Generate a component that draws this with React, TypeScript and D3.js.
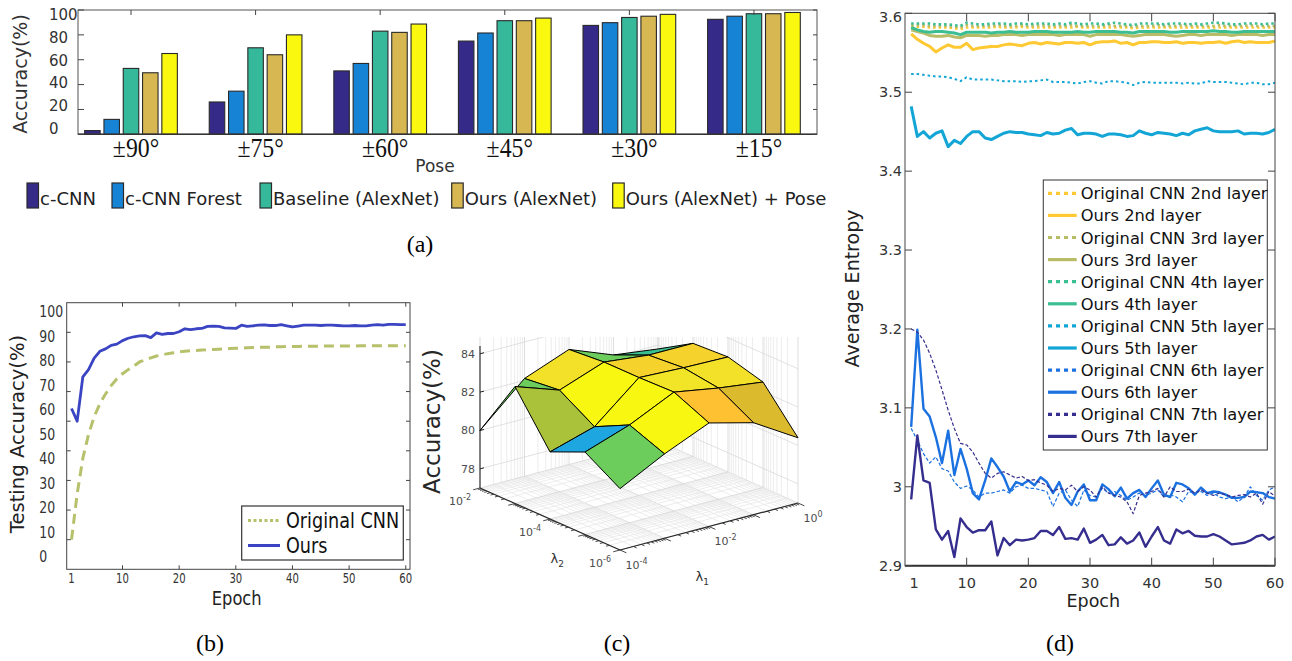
import React from 'react';
import * as d3 from 'd3';

const SANS = 'DejaVu Sans, Verdana, sans-serif';
const SERIF = 'Liberation Serif, Times New Roman, serif';

// ---------------- Panel (a) data ----------------
const poseLabels = ['±90°', '±75°', '±60°', '±45°', '±30°', '±15°'];
const barSeriesNames = ['c-CNN', 'c-CNN Forest', 'Baseline (AlexNet)', 'Ours (AlexNet)', 'Ours (AlexNet) + Pose'];
const barCNN = [3, 26, 51, 75, 87.6, 92.5];
const barCNNForest = [12, 34.7, 57, 81.5, 89.8, 95];
const barBaseline = [53, 69.6, 83, 91.4, 94, 97];
const barOurs = [49.5, 64, 82, 91.4, 95, 97];
const barOursPose = [65, 80, 88.7, 93.5, 96.5, 98];
const barTickValues = [0, 20, 40, 60, 80, 100];

// ---------------- Panel (b) data ----------------
const bEpochTicks = [1, 10, 20, 30, 40, 50, 60];
const bAccTickLabels = [0, 10, 20, 30, 40, 50, 60, 70, 80, 90, 100];
const bAccTickMarks = [20, 30, 40, 50, 60, 70, 80, 90];
const accOurs = [
  64.3, 60.0, 75.0, 77.4, 81.3, 83.6, 84.4, 85.6, 86.0, 87.2,
  88.0, 88.5, 88.8, 88.9, 88.2, 89.8, 89.3, 89.6, 89.6, 90.2,
  91.2, 90.9, 91.2, 91.3, 92.0, 92.1, 92.0, 91.5, 91.4, 91.3,
  92.4, 92.0, 92.2, 92.4, 92.5, 92.3, 92.3, 92.6, 92.2, 91.8,
  92.1, 92.4, 92.4, 92.4, 92.3, 92.4, 92.4, 92.3, 92.2, 92.2,
  92.3, 92.2, 92.2, 92.4, 92.6, 92.4, 92.7, 92.7, 92.6, 92.6,
];
const accOriginal = [
  20.0, 35.5, 47.5, 55.5, 61.5, 65.9, 69.2, 72.0, 74.3, 76.0,
  77.4, 78.6, 80.0, 80.7, 81.4, 82.0, 82.4, 82.8, 83.1, 83.4,
  83.6, 83.8, 83.9, 84.0, 84.1, 84.2, 84.3, 84.4, 84.5, 84.6,
  84.7, 84.8, 84.9, 84.9, 85.0, 85.0, 85.1, 85.1, 85.2, 85.2,
  85.2, 85.3, 85.3, 85.3, 85.3, 85.4, 85.4, 85.4, 85.4, 85.4,
  85.4, 85.5, 85.5, 85.5, 85.5, 85.5, 85.5, 85.5, 85.5, 85.5,
];

// ---------------- Panel (c) data ----------------
const lambda1 = [1e-4, 1e-3, 1e-2, 1e-1, 1];
const lambda2 = [1e-6, 1e-5, 1e-4, 1e-3, 1e-2];
// rows: lambda2 index, columns: lambda1 index
const accGrid = [
  [80.2, 81.4, 82.4, 81.8, 80.4],
  [81.3, 82.1, 83.2, 82.8, 82.5],
  [80.5, 81.2, 83.15, 83.05, 83.0],
  [83.1, 82.3, 83.15, 82.9, 82.9],
  [80.0, 82.1, 83.0, 82.1, 81.8],
];
const cZTicks = [78, 80, 82, 84];
const l1Labels = [1e-4, 1e-2, 1];
const l2Labels = [1e-6, 1e-4, 1e-2];

// ---------------- Panel (d) data ----------------
const dEpochTicks = [1, 10, 20, 30, 40, 50, 60];
const dEntTicks = [2.9, 3.0, 3.1, 3.2, 3.3, 3.4, 3.5, 3.6];
const ent2Orig = [3.583,3.583,3.583,3.582,3.582,3.582,3.582,3.581,3.580,3.582,3.582,3.582,3.582,3.582,3.583,3.582,3.582,3.582,3.583,3.582,3.582,3.582,3.582,3.582,3.582,3.582,3.582,3.583,3.582,3.582,3.582,3.582,3.582,3.582,3.582,3.582,3.581,3.582,3.582,3.582,3.582,3.582,3.582,3.582,3.582,3.582,3.582,3.582,3.582,3.582,3.582,3.582,3.582,3.582,3.582,3.582,3.582,3.582,3.582,3.582];
const ent2Ours = [
  3.574,3.567,3.562,3.558,3.551,3.556,3.560,3.557,3.557,3.562,
  3.554,3.556,3.557,3.558,3.558,3.560,3.561,3.560,3.559,3.562,
  3.563,3.561,3.563,3.562,3.561,3.563,3.563,3.562,3.563,3.560,
  3.563,3.564,3.564,3.565,3.562,3.563,3.560,3.563,3.563,3.564,
  3.564,3.563,3.563,3.564,3.562,3.563,3.563,3.562,3.563,3.563,
  3.564,3.562,3.564,3.565,3.563,3.564,3.563,3.563,3.563,3.565];
const ent3Orig = [3.585,3.585,3.585,3.584,3.584,3.584,3.584,3.583,3.582,3.585,3.584,3.584,3.584,3.584,3.585,3.584,3.584,3.584,3.585,3.584,3.584,3.585,3.584,3.584,3.584,3.584,3.585,3.584,3.584,3.584,3.584,3.584,3.585,3.584,3.584,3.584,3.583,3.584,3.584,3.584,3.585,3.584,3.584,3.584,3.585,3.584,3.584,3.584,3.584,3.584,3.585,3.584,3.584,3.584,3.584,3.585,3.584,3.584,3.584,3.584];
const ent3Ours = [3.579,3.577,3.575,3.572,3.571,3.571,3.572,3.570,3.569,3.572,3.572,3.572,3.571,3.572,3.572,3.573,3.573,3.573,3.572,3.573,3.573,3.573,3.573,3.573,3.572,3.573,3.573,3.573,3.573,3.571,3.573,3.573,3.573,3.573,3.573,3.572,3.571,3.572,3.573,3.573,3.573,3.573,3.572,3.571,3.572,3.573,3.573,3.572,3.573,3.573,3.573,3.573,3.572,3.573,3.573,3.573,3.573,3.572,3.573,3.573];
const ent4Orig = [3.587,3.587,3.587,3.587,3.586,3.586,3.586,3.585,3.584,3.588,3.587,3.586,3.586,3.587,3.587,3.587,3.586,3.587,3.587,3.586,3.587,3.587,3.587,3.586,3.587,3.586,3.588,3.587,3.586,3.587,3.587,3.586,3.587,3.588,3.587,3.586,3.585,3.587,3.587,3.587,3.587,3.586,3.587,3.587,3.587,3.586,3.587,3.586,3.587,3.588,3.588,3.587,3.586,3.586,3.587,3.587,3.587,3.586,3.587,3.587];
const ent4Ours = [3.582,3.579,3.577,3.576,3.577,3.577,3.576,3.575,3.573,3.576,3.576,3.576,3.576,3.575,3.576,3.576,3.577,3.576,3.576,3.576,3.577,3.577,3.577,3.576,3.576,3.576,3.576,3.577,3.576,3.576,3.577,3.577,3.577,3.577,3.576,3.576,3.575,3.577,3.577,3.577,3.577,3.577,3.576,3.576,3.577,3.577,3.577,3.577,3.577,3.578,3.577,3.577,3.576,3.576,3.577,3.577,3.577,3.577,3.577,3.577];
const ent5Orig = [
  3.523,3.523,3.522,3.521,3.520,3.520,3.519,3.517,3.514,3.519,
  3.516,3.516,3.516,3.516,3.515,3.514,3.514,3.514,3.513,3.514,
  3.514,3.515,3.516,3.513,3.513,3.513,3.512,3.511,3.513,3.514,
  3.512,3.511,3.514,3.514,3.513,3.512,3.509,3.512,3.513,3.512,
  3.512,3.512,3.512,3.512,3.511,3.512,3.511,3.511,3.514,3.513,
  3.513,3.513,3.512,3.511,3.510,3.512,3.512,3.510,3.510,3.512];
const ent5Ours = [
  3.482,3.444,3.450,3.442,3.448,3.451,3.431,3.439,3.435,3.444,
  3.450,3.450,3.442,3.440,3.444,3.448,3.450,3.449,3.449,3.447,
  3.446,3.445,3.449,3.447,3.448,3.452,3.454,3.446,3.448,3.448,
  3.447,3.444,3.447,3.447,3.446,3.444,3.445,3.451,3.448,3.446,
  3.449,3.448,3.447,3.445,3.448,3.446,3.451,3.453,3.455,3.451,
  3.450,3.450,3.450,3.451,3.447,3.448,3.448,3.447,3.449,3.453];
const ent6Orig = [
  3.074,3.059,3.042,3.030,3.038,3.023,3.020,3.006,2.998,3.001,
  2.996,2.987,2.992,2.992,2.994,2.996,2.992,3.000,3.002,2.998,
  2.998,2.996,2.994,2.975,2.992,2.996,2.983,2.975,2.996,2.989,
  2.987,2.998,2.992,2.994,2.989,2.983,2.987,2.992,2.989,2.992,
  2.996,2.987,2.990,2.987,2.981,2.994,2.992,2.994,2.989,2.992,
  2.987,2.985,2.987,2.981,2.987,3.000,2.989,2.983,2.996,3.000];
const ent6Ours = [
  3.076,3.199,3.099,3.089,3.063,3.030,3.071,3.015,3.048,3.023,
  2.992,2.984,3.008,3.036,3.025,3.013,2.994,3.006,3.003,3.008,
  3.002,3.012,3.006,2.992,3.006,2.986,2.977,2.994,3.003,2.983,
  2.983,3.003,2.997,2.988,2.999,2.985,2.992,2.996,2.987,2.998,
  3.008,2.990,2.987,3.005,3.003,2.998,2.990,2.999,2.992,2.994,
  2.993,2.990,2.986,2.986,2.987,2.994,2.993,2.992,2.987,2.985];
const ent7Orig = [
  3.200,3.196,3.186,3.169,3.148,3.123,3.097,3.074,3.055,3.053,
  3.044,3.030,3.017,3.011,3.017,3.019,3.015,3.011,3.013,3.008,
  3.009,3.005,3.002,2.994,2.998,2.996,3.002,2.994,3.000,2.996,
  2.987,3.000,2.992,2.989,2.987,2.981,2.966,2.989,2.992,2.994,
  2.998,2.987,3.000,2.994,2.994,2.997,2.992,2.996,2.992,2.989,
  2.992,2.990,2.987,2.989,2.990,2.987,2.992,2.978,2.994,2.988];
const ent7Ours = [
  2.984,3.065,3.008,3.005,2.946,2.933,2.944,2.911,2.960,2.949,
  2.942,2.945,2.945,2.956,2.913,2.935,2.926,2.933,2.932,2.933,
  2.935,2.944,2.944,2.939,2.949,2.934,2.935,2.933,2.947,2.929,
  2.933,2.939,2.926,2.927,2.936,2.928,2.932,2.942,2.924,2.937,
  2.949,2.932,2.928,2.946,2.941,2.944,2.938,2.937,2.937,2.940,
  2.937,2.932,2.927,2.928,2.929,2.932,2.937,2.939,2.933,2.937];
const dLegendLabels = [
  'Original CNN 2nd layer', 'Ours 2nd layer', 'Original CNN 3rd layer', 'Ours 3rd layer',
  'Original CNN 4th layer', 'Ours 4th layer', 'Original CNN 5th layer', 'Ours 5th layer',
  'Original CNN 6th layer', 'Ours 6th layer', 'Original CNN 7th layer', 'Ours 7th layer',
];

// ---------------- helpers ----------------
function SqText(props: any) {
  const { x, y, sx = 1, anchor = 'start', size, fill = '#222', family = SANS, children } = props;
  return (
    <text transform={`translate(${x},${y}) scale(${sx},1)`} textAnchor={anchor} fontSize={size} fill={fill} fontFamily={family}>
      {children}
    </text>
  );
}

// ---------------- Panel (a) ----------------
function PanelA() {
  const L = 78, R = 817, T = 10, B = 134.3;
  const x = d3.scaleLinear().domain([0.5746, 6.506]).range([L, R]);
  const y = d3.scaleLinear().domain([0, 100]).range([B, T]);
  const yLab = d3.scaleLinear().domain([0, 100]).range([128.3, 15]);
  const inner = d3.scaleBand<string>().domain(barSeriesNames).range([-46.35, 46.35]).paddingInner(0.197);
  const series = [barCNN, barCNNForest, barBaseline, barOurs, barOursPose];
  const colors = ['#352a87', '#1783d5', '#36b89b', '#d7b752', '#f9f80e'];
  const legendX = [27, 112, 260, 451.7, 612.7];
  return (
    <g>
      {series.map((vals, k) =>
        vals.map((v, g) => (
          <rect key={`b${k}-${g}`} x={x(g + 1) + (inner(barSeriesNames[k]) as number)} y={y(v)}
            width={inner.bandwidth()} height={B - y(v)} fill={colors[k]} stroke="#2a2a2a" strokeWidth={1.1} />
        ))
      )}
      <rect x={L} y={T} width={R - L} height={B - T} fill="none" stroke="#555" strokeWidth={1} />
      <line x1={L} x2={R} y1={B} y2={B} stroke="#333" strokeWidth={1.4} />
      {barTickValues.map((v) => (
        <g key={`yt${v}`}>
          <line x1={L} x2={L + 6} y1={y(v)} y2={y(v)} stroke="#444" />
          <line x1={R} x2={R - 4} y1={y(v)} y2={y(v)} stroke="#444" />
          <text x={49} y={yLab(v) + 5.4} fontSize={15} fill="#333">{v}</text>
        </g>
      ))}
      {poseLabels.map((p, g) => (
        <g key={`xt${g}`}>
          <line x1={x(g + 1)} x2={x(g + 1)} y1={T} y2={T + 5} stroke="#444" />
          <SqText x={x(g + 1) + 5} y={157} sx={0.85} anchor="middle" size={28} family={SERIF} fill="#111">{p}</SqText>
        </g>
      ))}
      <text x={435} y={172} textAnchor="middle" fontSize={17} fill="#333">Pose</text>
      <text transform="translate(26.5,74) rotate(-90)" textAnchor="middle" fontSize={19} fill="#333">Accuracy(%)</text>
      {barSeriesNames.map((n, k) => (
        <g key={`lg${k}`}>
          <rect x={legendX[k]} y={183} width={11.5} height={25} fill={colors[k]} stroke="#2a2a2a" strokeWidth={1.2} />
          <text x={legendX[k] + 13} y={205} fontSize={18} fill="#222">{n}</text>
        </g>
      ))}
    </g>
  );
}

// ---------------- Panel (b) ----------------
function PanelB() {
  const L = 66.7, R = 410, T = 302.7, B = 569.3;
  const x = d3.scaleLinear().domain([0.15, 60.75]).range([L, R]);
  const y = d3.scaleLinear().domain([10, 100]).range([B, T]);
  const yLab = d3.scaleLinear().domain([0, 100]).range([556.7, 311.7]);
  const line = d3.line<number>().x((_, i) => x(i + 1)).y((d) => y(d));
  const cOurs = '#3b44c2';
  const cOrig = '#b7c06a';
  return (
    <g>
      <defs>
        <clipPath id="clipB"><rect x={L} y={T} width={R - L} height={B - T} /></clipPath>
      </defs>
      <g clipPath="url(#clipB)">
        <path d={line(accOriginal) as string} fill="none" stroke={cOrig} strokeWidth={3} strokeDasharray="10,6" />
        <path d={line(accOurs) as string} fill="none" stroke={cOurs} strokeWidth={2.8} strokeLinejoin="round" />
      </g>
      <rect x={L} y={T} width={R - L} height={B - T} fill="none" stroke="#444" strokeWidth={1} />
      {bAccTickMarks.map((v) => (
        <g key={`bt${v}`}>
          <line x1={L} x2={L + 4} y1={y(v)} y2={y(v)} stroke="#444" />
          <line x1={R} x2={R - 4} y1={y(v)} y2={y(v)} stroke="#444" />
        </g>
      ))}
      {bAccTickLabels.map((v) => (
        <SqText key={`bl${v}`} x={39.3} y={yLab(v) + 5.7} sx={0.78} size={16} fill="#333">{v}</SqText>
      ))}
      {bEpochTicks.map((v) => (
        <g key={`bx${v}`}>
          {v > 1 && <line x1={x(v)} x2={x(v)} y1={T} y2={T + 4} stroke="#444" />}
          {v > 1 && <line x1={x(v)} x2={x(v)} y1={B} y2={B - 4} stroke="#444" />}
          <SqText x={x(v)} y={582.5} sx={0.72} anchor="middle" size={14} fill="#333">{v}</SqText>
        </g>
      ))}
      <SqText x={236.7} y={604.5} sx={0.86} anchor="middle" size={19} fill="#222">Epoch</SqText>
      <text transform="translate(23.5,434) rotate(-90)" textAnchor="middle" fontSize={19.6} fill="#222">Testing Accuracy(%)</text>
      <rect x={241.7} y={506} width={161.6} height={54} fill="#fff" stroke="#333" strokeWidth={1.2} />
      <line x1={248} x2={280} y1={520.5} y2={520.5} stroke={cOrig} strokeWidth={3} strokeDasharray="3,2.5" />
      <line x1={248} x2={280} y1={545.5} y2={545.5} stroke={cOurs} strokeWidth={3} />
      <SqText x={286} y={528.3} sx={0.84} size={21} fill="#111">Original CNN</SqText>
      <SqText x={286} y={553.3} sx={0.84} size={21} fill="#111">Ours</SqText>
    </g>
  );
}

// ---------------- Panel (c) ----------------
function PanelC() {
  const t1 = d3.scaleLog().domain([1e-4, 1]).range([0, 4]);
  const t2 = d3.scaleLog().domain([1e-6, 1e-2]).range([0, 4]);
  const zS = d3.scaleLinear().domain([77, 85]).range([0, 153.4]);
  const FX = 620, FY = 550;
  const V1 = [44.5, -11.75];
  const V2 = [-35, -15.5];
  const Z0 = 77, ZT = 84.4;
  const proj = (l1: number, l2: number, z: number) => {
    const a = t1(l1), b = t2(l2);
    return [FX + a * V1[0] + b * V2[0], FY + a * V1[1] + b * V2[1] - zS(z)];
  };
  const color = d3.scaleLinear<string>()
    .domain([81.2, 81.8, 82.1, 82.3, 82.5, 82.8, 82.95, 83.05, 83.15])
    .range(['#1ea6e0', '#3cbf8e', '#6ccc5c', '#a9c23a', '#dbbb2d', '#fdc131', '#f1dc2a', '#f2e427', '#f8f712'])
    .clamp(true);
  const isMajor = (v: number) => Math.abs(Math.log10(v) - Math.round(Math.log10(v))) < 1e-6;
  const l1Ticks = t1.ticks();
  const l2Ticks = t2.ticks();
  const l1min = lambda1[0], l1max = lambda1[lambda1.length - 1];
  const l2min = lambda2[0], l2max = lambda2[lambda2.length - 1];
  const seg = (p: number[], q: number[], key: string, stroke: string, w: number) => (
    <line key={key} x1={p[0]} y1={p[1]} x2={q[0]} y2={q[1]} stroke={stroke} strokeWidth={w} />
  );
  const gridCol = (v: number) => (isMajor(v) ? '#d4d4d4' : '#e9e9e9');
  const grid: any[] = [];
  l1Ticks.forEach((v, k) => {
    grid.push(seg(proj(v, l2min, Z0), proj(v, l2max, Z0), `f1${k}`, gridCol(v), 0.8));
    grid.push(seg(proj(v, l2max, Z0), proj(v, l2max, ZT + 2), `w1${k}`, gridCol(v), 0.8));
  });
  l2Ticks.forEach((v, k) => {
    grid.push(seg(proj(l1min, v, Z0), proj(l1max, v, Z0), `f2${k}`, gridCol(v), 0.8));
    grid.push(seg(proj(l1max, v, Z0), proj(l1max, v, ZT + 2), `w2${k}`, gridCol(v), 0.8));
  });
  cZTicks.forEach((z, k) => {
    grid.push(seg(proj(l1min, l2max, z), proj(l1max, l2max, z), `zl${k}`, '#d9d9d9', 0.8));
    grid.push(seg(proj(l1max, l2max, z), proj(l1max, l2min, z), `zr${k}`, '#d9d9d9', 0.8));
  });

  const faces: any[] = [];
  for (let j = 0; j < lambda2.length - 1; j++) {
    for (let i = 0; i < lambda1.length - 1; i++) {
      const pts = [
        proj(lambda1[i], lambda2[j], accGrid[j][i]),
        proj(lambda1[i + 1], lambda2[j], accGrid[j][i + 1]),
        proj(lambda1[i + 1], lambda2[j + 1], accGrid[j + 1][i + 1]),
        proj(lambda1[i], lambda2[j + 1], accGrid[j + 1][i]),
      ];
      const depth = -((i + 0.5) * V1[1] + (j + 0.5) * V2[1]);
      faces.push({ pts, depth, fill: color(accGrid[j + 1][i + 1]), key: `f${i}-${j}` });
    }
  }
  faces.sort((a, b) => b.depth - a.depth);

  const n1 = Math.hypot(V1[0], V1[1]);
  const n2 = Math.hypot(V2[0], V2[1]);
  const d1 = [-V1[0] / n1, -V1[1] / n1];
  const d2 = [-V2[0] / n2, -V2[1] / n2];
  const ticks: any[] = [];
  l2Ticks.forEach((v, k) => {
    const p = proj(l1min, v, Z0);
    const len = isMajor(v) ? 7 : 3.5;
    ticks.push(seg(p, [p[0] + d1[0] * len, p[1] + d1[1] * len], `t2${k}`, '#333', 0.9));
  });
  l1Ticks.forEach((v, k) => {
    const p = proj(v, l2min, Z0);
    const len = isMajor(v) ? 7 : 3.5;
    ticks.push(seg(p, [p[0] + d2[0] * len, p[1] + d2[1] * len], `t1${k}`, '#333', 0.9));
  });
  const expOf = (v: number) => String(Math.round(Math.log10(v)));
  const axisTop = proj(l1min, l2max, ZT);
  const axisBot = proj(l1min, l2max, Z0);
  return (
    <g>
      <defs>
        <clipPath id="clipC"><rect x={420} y={337} width={410} height={280} /></clipPath>
      </defs>
      <g clipPath="url(#clipC)">
        {grid}
        {seg(proj(l1min, l2min, Z0), proj(l1min, l2max, Z0), 'ax2', '#262626', 1.2)}
        {seg(proj(l1min, l2min, Z0), proj(l1max, l2min, Z0), 'ax1', '#262626', 1.2)}
        {ticks}
        <line x1={axisBot[0]} y1={axisBot[1]} x2={axisTop[0]} y2={axisTop[1]} stroke="#262626" strokeWidth={1.1} />
        {cZTicks.map((z) => {
          const p = proj(l1min, l2max, z);
          return (
            <g key={`zt${z}`}>
              <line x1={p[0]} y1={p[1]} x2={p[0] + 4} y2={p[1] - 1} stroke="#262626" />
              <text x={p[0] - 5} y={p[1] + 4} textAnchor="end" fontSize={11} fill="#4d4d4d">{z}</text>
            </g>
          );
        })}
        {faces.map((f) => (
          <polygon key={f.key} points={f.pts.map((p: number[]) => p.join(',')).join(' ')} fill={f.fill} stroke="#000" strokeWidth={1} strokeLinejoin="round" />
        ))}
      </g>
      {l2Labels.map((v) => {
        const p = proj(l1min, v, Z0);
        return (
          <text key={`l2l${v}`} x={p[0] - 9} y={p[1] + 17} textAnchor="end" fontSize={11} fill="#4d4d4d">
            10<tspan dy={-5} fontSize={8}>{expOf(v)}</tspan>
          </text>
        );
      })}
      {l1Labels.map((v) => {
        const p = proj(v, l2min, Z0);
        return (
          <text key={`l1l${v}`} x={p[0] + 5.5} y={p[1] + 18.5} textAnchor="start" fontSize={11} fill="#4d4d4d">
            10<tspan dy={-5} fontSize={8}>{expOf(v)}</tspan>
          </text>
        );
      })}
      <text x={550.5} y={563} fontSize={13} fill="#333">λ<tspan dy={4} fontSize={9}>2</tspan></text>
      <text x={695.5} y={581} fontSize={13} fill="#333">λ<tspan dy={4} fontSize={9}>1</tspan></text>
      <text transform="translate(440,421.5) rotate(-90)" textAnchor="middle" fontSize={23} fill="#262626">Accuracy(%)</text>
    </g>
  );
}

// ---------------- Panel (d) ----------------
function PanelD() {
  const L = 905, R = 1275, T = 13.3, B = 565.7;
  const x = d3.scaleLinear().domain([0, 60]).range([L, R]);
  const y = d3.scaleLinear().domain([2.9, 3.6]).range([B, T]);
  const line = d3.line<number>().x((_, i) => x(i + 1)).y((d) => y(d));
  const C2 = '#fec932', C3 = '#b9bc66', C4 = '#3cbe93', C5 = '#12a5d6', C6 = '#1b71e0', C7 = '#352e8e';
  const seriesValues = [ent2Orig, ent2Ours, ent3Orig, ent3Ours, ent4Orig, ent4Ours, ent5Orig, ent5Ours, ent6Orig, ent6Ours, ent7Orig, ent7Ours];
  const styles = [
    { c: C2, w: 2.6, dash: '2.5,3' }, { c: C2, w: 3 },
    { c: C3, w: 2.6, dash: '2.5,3' }, { c: C3, w: 3 },
    { c: C4, w: 2.6, dash: '2.5,3' }, { c: C4, w: 3 },
    { c: C5, w: 2, dash: '2.5,3' }, { c: C5, w: 3 },
    { c: C6, w: 1.2, dash: '3.5,2' }, { c: C6, w: 2.4 },
    { c: C7, w: 1.2, dash: '3.5,2' }, { c: C7, w: 2.4 },
  ];
  const legX = 1043.3, legY = 180, legW = 224, legH = 270;
  return (
    <g>
      <defs>
        <clipPath id="clipD"><rect x={L} y={T} width={R - L} height={B - T} /></clipPath>
      </defs>
      <g clipPath="url(#clipD)">
        {seriesValues.map((vals, k) => (
          <path key={`dl${k}`} d={line(vals) as string} fill="none" stroke={styles[k].c} strokeWidth={styles[k].w}
            strokeDasharray={(styles[k] as any).dash} strokeLinejoin="round" />
        ))}
      </g>
      <rect x={L} y={T} width={R - L} height={B - T} fill="none" stroke="#444" strokeWidth={1} />
      <line x1={L} x2={R} y1={B} y2={B} stroke="#333" strokeWidth={2} />
      {dEntTicks.map((v) => (
        <g key={`dy${v}`}>
          <line x1={L} x2={L + 7} y1={y(v)} y2={y(v)} stroke="#444" />
          <line x1={R} x2={R - 7} y1={y(v)} y2={y(v)} stroke="#444" />
          <text x={902} y={Math.max(y(v) + 5, 21.5)} textAnchor="end" fontSize={14.5} fill="#333">{d3.format('~g')(v)}</text>
        </g>
      ))}
      {dEpochTicks.map((v) => (
        <g key={`dx${v}`}>
          {v > 1 && <line x1={x(v)} x2={x(v)} y1={T} y2={T + 8} stroke="#444" />}
          {v > 1 && <line x1={x(v)} x2={x(v)} y1={B} y2={B - 8} stroke="#444" />}
          <text x={x(v) + (v === 1 ? 3 : 0)} y={587.5} textAnchor="middle" fontSize={14.5} fill="#333">{v}</text>
        </g>
      ))}
      <text x={1093.3} y={607} textAnchor="middle" fontSize={17.5} fill="#222">Epoch</text>
      <text transform="translate(859,288.5) rotate(-90)" textAnchor="middle" fontSize={19} fill="#222">Average Entropy</text>
      <rect x={legX} y={legY} width={legW} height={legH} fill="#fff" stroke="#444" strokeWidth={1.1} />
      {dLegendLabels.map((lab, k) => {
        const cy = 193.3 + 22.1 * k;
        const s: any = styles[k];
        return (
          <g key={`dleg${k}`}>
            <line x1={1048} x2={1076.7} y1={cy} y2={cy} stroke={s.c} strokeWidth={3.2} strokeDasharray={s.dash ? '4,4' : undefined} />
            <text x={1080.7} y={cy + 6} fontSize={16.3} fill="#111">{lab}</text>
          </g>
        );
      })}
    </g>
  );
}

export default function App() {
  return (
    <svg width={1292} height={661} viewBox="0 0 1292 661"
      style={{ position: 'absolute', left: 0, top: 0, background: '#fff' }} fontFamily={SANS}>
      <rect x={0} y={0} width={1292} height={661} fill="#fff" />
      <PanelA />
      <PanelB />
      <PanelC />
      <PanelD />
      <text x={420} y={252} textAnchor="middle" fontSize={24} fontFamily={SERIF} fill="#000">(a)</text>
      <text x={210} y={651} textAnchor="middle" fontSize={24} fontFamily={SERIF} fill="#000">(b)</text>
      <text x={617} y={651} textAnchor="middle" fontSize={24} fontFamily={SERIF} fill="#000">(c)</text>
      <text x={1060} y={651} textAnchor="middle" fontSize={24} fontFamily={SERIF} fill="#000">(d)</text>
    </svg>
  );
}
